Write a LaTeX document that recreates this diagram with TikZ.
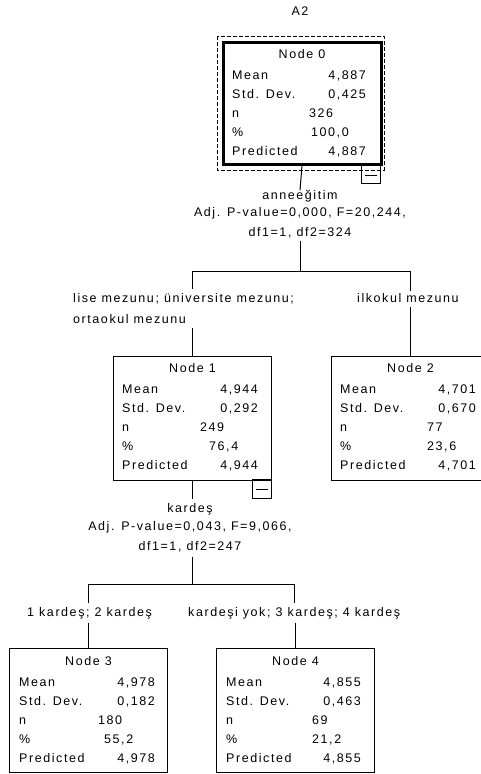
\documentclass[tikz,border=0pt]{standalone}
\usepackage{fontspec}
\setmainfont{Liberation Sans}[LetterSpace=12.5]
\usetikzlibrary{calc}
\newcommand\nx{87}
\newcommand\px{96}
\newcommand\ry{34}
% #1 name, #2 title, #3 mean, #4 sd, #5 n, #6 pct, #7 pred, #8 label x offset, #9 value x offset
\newcommand\mkrows[9]{%
  \node[txt] (#1t) at ($(#1.north)+(0,\ry-21)$) {#2};
  \node[txt,anchor=west] (#1ml) at ($(#1.north west)+(#8,\ry)$) {Mean};
  \node[txt,anchor=east] (#1mv) at ($(#1.north west)+(#9,\ry)$) {#3};
  \node[txt,anchor=west] (#1sl) at ($(#1.north west)+(#8,\ry+19)$) {Std. Dev.};
  \node[txt,anchor=east] (#1sv) at ($(#1.north west)+(#9,\ry+19)$) {#4};
  \node[txt,anchor=west] (#1nl) at ($(#1.north west)+(#8,\ry+38)$) {n};
  \node[txt,anchor=west] (#1nv) at ($(#1.north west)+(\nx,\ry+38)$) {#5};
  \node[txt,anchor=west] (#1pl) at ($(#1.north west)+(#8,\ry+57)$) {\%};
  \node[txt,anchor=west] (#1pv) at ($(#1.north west)+(\px,\ry+57)$) {#6};
  \node[txt,anchor=west] (#1rl) at ($(#1.north west)+(#8,\ry+76)$) {Predicted};
  \node[txt,anchor=east] (#1rv) at ($(#1.north west)+(#9,\ry+76)$) {#7};
}
\begin{document}
\begin{tikzpicture}[x=1pt,y=-1pt,
  txt/.style={inner sep=0pt, text height=9pt, text depth=0pt, font=\fontsize{12.5}{14}\selectfont},
  box/.style={draw, line width=1pt, anchor=north west, inner sep=0pt, minimum width=158pt, minimum height=124pt},
  thickbox/.style={draw, line width=3pt, anchor=north west, inner sep=0pt, minimum width=158pt, minimum height=122pt},
  minibox/.style={draw, line width=1pt, anchor=north west, inner sep=0pt, minimum width=19pt, minimum height=19pt},
  conn/.style={line width=1pt},
  dashbox/.style={line width=1pt, dash pattern=on 4pt off 2pt}]
\useasboundingbox (0,0) rectangle (480,774);

\node[txt] (title) at (300,11) {A2};

% Node 0
\draw[dashbox] (217,36) rectangle (384,170);
\node[thickbox] (n0) at (221.5,40.5) {};
\renewcommand\ry{34.5}\renewcommand\nx{87.5}\renewcommand\px{89.5}
\mkrows{n0}{Node 0}{4,887}{0,425}{326}{100,0}{4,887}{10.5}{144.5}
\node[minibox] (n0c) at (361,164) {};
\draw[conn] ($(n0c.west)+(4,1)$) -- ($(n0c.east)+(-4,1)$);

% split 0
\node[txt] (s0a) at (300,195) {anneeğitim};
\node[txt] (s0b) at (300,212) {Adj. P-value=0,000, F=20,244,};
\node[txt] (s0c) at (300,232) {df1=1, df2=324};
\coordinate (j0) at (300,271);
\coordinate (j0l) at (192,271);
\coordinate (j0r) at (410,271);
\draw[conn] (n0.south) -- (s0a.north);
\draw[conn] ($(s0c.south)+(0,4)$) -- (j0);
\draw[conn] (j0l) -- (j0r);

% branch labels
\node[txt,anchor=west] (b1a) at (73,298) {lise mezunu; üniversite mezunu;};
\node[txt,anchor=west] (b1b) at (73,319) {ortaokul mezunu};
\node[txt,anchor=west] (b2) at (357,298) {ilkokul mezunu};

% Node 1
\node[box] (n1) at (113,356) {};
\renewcommand\ry{33}\renewcommand\nx{87}\renewcommand\px{96}
\mkrows{n1}{Node 1}{4,944}{0,292}{249}{76,4}{4,944}{9}{145}
\node[minibox] (n1c) at (252,479) {};
\draw[conn] ($(n1c.west)+(4,0)$) -- ($(n1c.east)+(-4,0)$);

% Node 2
\node[box] (n2) at (331,356) {};
\renewcommand\nx{96}\renewcommand\px{96}
\mkrows{n2}{Node 2}{4,701}{0,670}{77}{23,6}{4,701}{9}{145}

\draw[conn] (j0l) -- ($(b1a.north west)!(j0l)!(b1a.north east)+(0,-4)$);
\draw[conn] ($(b1b.south west)!(n1.north)!(b1b.south east)+(0,4)$) -- (n1.north);
\draw[conn] (j0r) -- ($(b2.north west)!(j0r)!(b2.north east)+(0,-2)$);
\draw[conn] ($(b2.south west)!(n2.north)!(b2.south east)+(0,4)$) -- (n2.north);

% split 1
\node[txt] (s1a) at (190,508) {kardeş};
\node[txt] (s1b) at (190,526) {Adj. P-value=0,043, F=9,066,};
\node[txt] (s1c) at (190,546) {df1=1, df2=247};
\coordinate (j1) at (192,584);
\coordinate (j1l) at (88,584);
\coordinate (j1r) at (294,584);
\draw[conn] (n1.south) -- ($(s1a.north west)!(n1.south)!(s1a.north east)+(0,-4)$);
\draw[conn] ($(s1c.south west)!(j1)!(s1c.south east)+(0,6)$) -- (j1);
\draw[conn] (j1l) -- (j1r);

% branch labels 2
\node[txt,anchor=west] (b3) at (27,612) {1 kardeş; 2 kardeş};
\node[txt,anchor=west] (b4) at (188,612) {kardeşi yok; 3 kardeş; 4 kardeş};

% Node 3
\node[box] (n3) at (9,648) {};
\renewcommand\ry{34}\renewcommand\nx{89}\renewcommand\px{95}
\mkrows{n3}{Node 3}{4,978}{0,182}{180}{55,2}{4,978}{10}{146}

% Node 4
\node[box] (n4) at (216,648) {};
\renewcommand\nx{96}\renewcommand\px{96}
\mkrows{n4}{Node 4}{4,855}{0,463}{69}{21,2}{4,855}{10}{145}

\draw[conn] (j1l) -- ($(b3.north west)!(j1l)!(b3.north east)+(0,-4)$);
\draw[conn] ($(b3.south west)!(n3.north)!(b3.south east)+(0,6)$) -- (n3.north);
\draw[conn] (j1r) -- ($(b4.north west)!(j1r)!(b4.north east)+(0,-4)$);
\draw[conn] ($(b4.south west)!(n4.north)!(b4.south east)+(0,6)$) -- (n4.north);
\end{tikzpicture}
\end{document}
